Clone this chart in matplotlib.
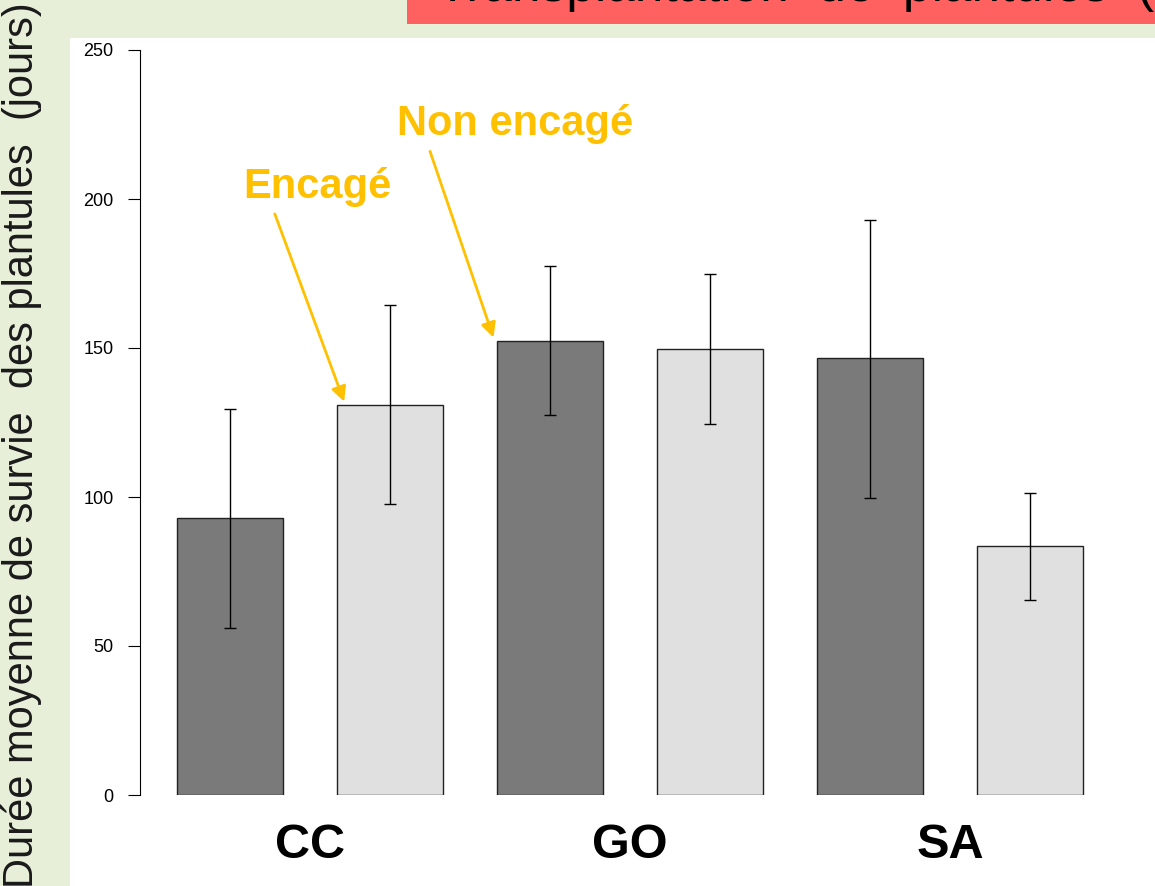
import matplotlib
matplotlib.use("Agg")
from matplotlib import pyplot as plt
from matplotlib.patches import Rectangle
import numpy as np

plt.rcParams['font.family'] = ['Liberation Sans', 'DejaVu Sans']

sites = ["CC", "GO", "SA"]
treatments = ["Encagé", "Non encagé"]
means = [93, 131, 152.5, 149.5, 146.5, 83.5]
err_hi = [129.5, 164.5, 177.5, 175, 193, 101.5]
err_lo = [56, 97.5, 127.5, 124.5, 99.5, 65.5]
bar_colors = ["#7a7a7a", "#e0e0e0"] * 3
ylabel = "Durée moyenne de survie  des plantules  (jours)"
title = "Transplantation  de  plantules  (effet"

W, H = 1155, 886
fig = plt.figure(figsize=(W / 100, H / 100), dpi=100)
fig.patch.set_facecolor("#e7efd9")

# white panel and red title strip
fig.patches.append(Rectangle((70 / W, 0), 1 - 70 / W, 1 - 38 / H, transform=fig.transFigure,
                             facecolor="white", edgecolor="none", zorder=-2))
fig.patches.append(Rectangle((407 / W, 1 - 24 / H), 1 - 407 / W, 24 / H, transform=fig.transFigure,
                             facecolor="#ff6161", edgecolor="none", zorder=-2))
fig.text(437 / W, 1 - 1 / H, title, fontsize=37, color="black", va="baseline", ha="left")

ax = fig.add_axes([140 / W, (H - 795) / H, (W - 140) / W, 745 / H])
ax.set_facecolor("none")

x = 1.0 + 1.5 * np.arange(len(means))
means = np.array(means)
yerr = np.array([means - np.array(err_lo), np.array(err_hi) - means])
ax.bar(x, means, width=1.0, color=bar_colors, edgecolor="#222222", linewidth=1)
ax.errorbar(x, means, yerr=yerr, fmt="none", ecolor="black", elinewidth=1, capsize=4, capthick=1)

ax.set_xlim((140 - 123.33) / 106.67, (W - 123.33) / 106.67)
ax.set_ylim(0, 250)
ax.set_yticks([0, 50, 100, 150, 200, 250])
ax.tick_params(axis="y", length=9, width=0.8, labelsize=13, pad=10)
ax.set_xticks([])
for s in ["top", "right", "bottom"]:
    ax.spines[s].set_visible(False)
ax.spines["left"].set_linewidth(0.8)

for i, s in enumerate(sites):
    ax.text(x[2 * i] + 0.75, -17, s, fontsize=35, fontweight="bold", ha="center", va="center",
            clip_on=False)

gold = "#ffc000"
arrow = dict(arrowstyle="-|>", color=gold, lw=2, mutation_scale=22, shrinkA=0, shrinkB=0)
ax.text(1.816, 204, treatments[0], fontsize=30, fontweight="bold", color=gold, ha="center", va="center")
ax.text(3.672, 225, treatments[1], fontsize=30, fontweight="bold", color=gold, ha="center", va="center")
ax.annotate("", xy=(x[1] - 0.43, means[1] + 1), xytext=(1.42, 195), arrowprops=arrow)
ax.annotate("", xy=(x[2] - 0.53, means[2] + 1), xytext=(2.875, 216), arrowprops=arrow)

fig.text(22 / W, 441 / H, ylabel, rotation=90, fontsize=30, color="#1a1a1a", ha="center", va="center")

fig.savefig("out.png", dpi=100)
